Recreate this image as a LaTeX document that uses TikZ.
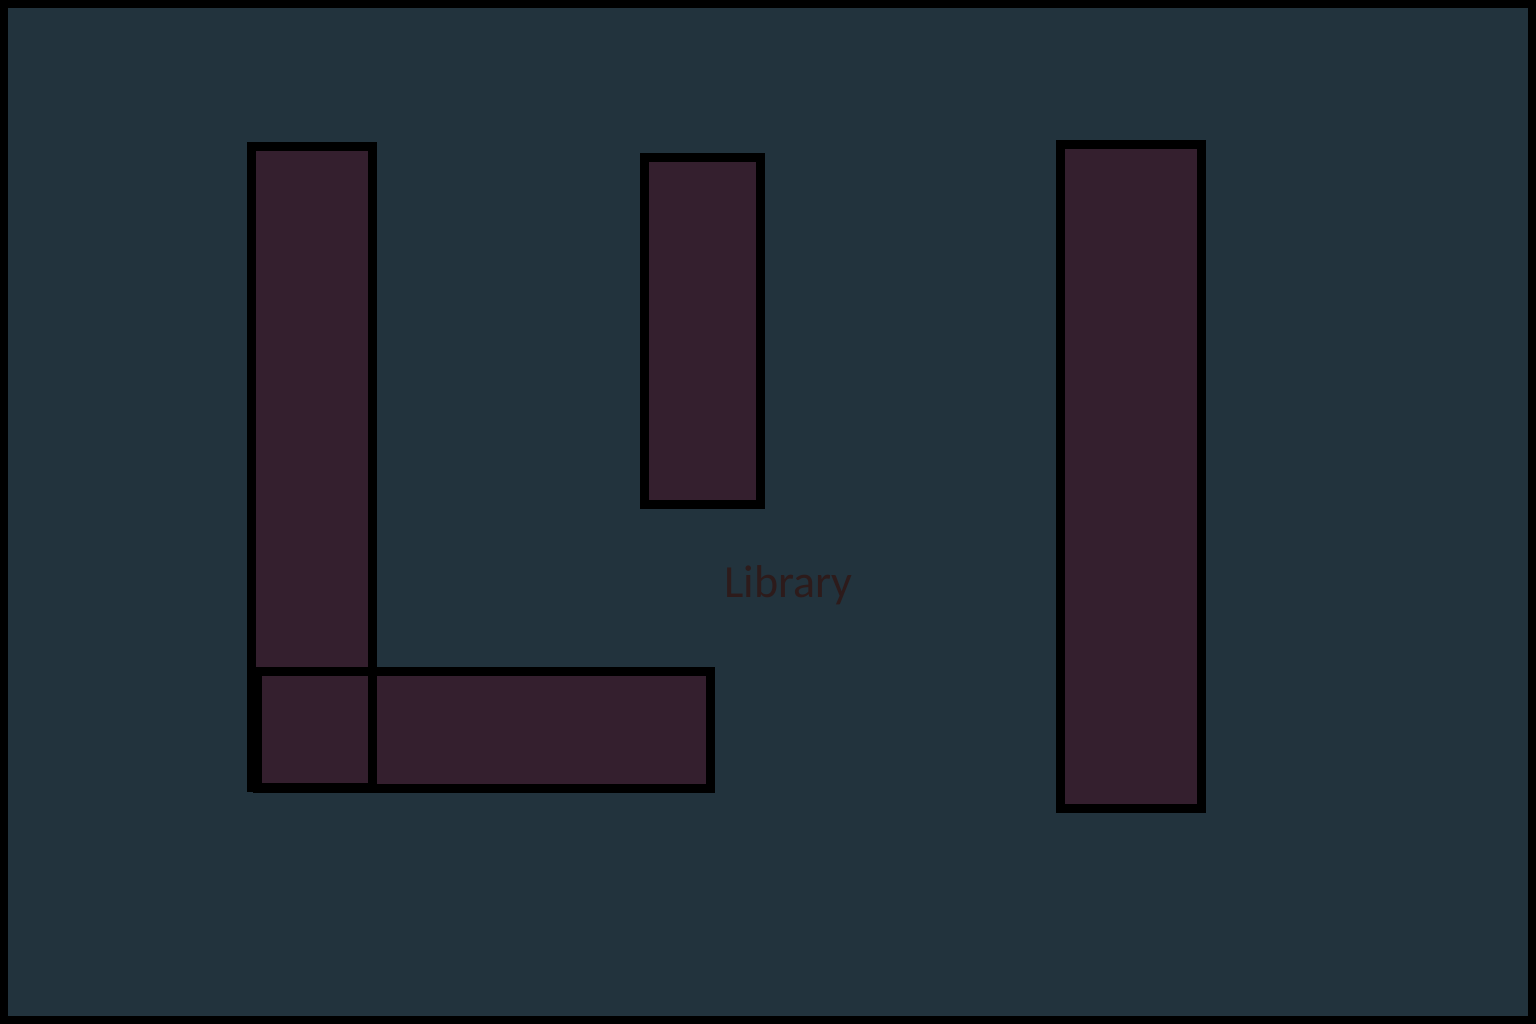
\documentclass[tikz,border=0pt]{standalone}
\usepackage{fontspec}
\setmainfont{Carlito}
\usepackage{xcolor}
\usepackage{tikz}
\usetikzlibrary{positioning}

\definecolor{roomblue}{RGB}{34,51,61}
\definecolor{shelffill}{RGB}{52,31,46}
\definecolor{labelbrown}{RGB}{45,27,27}

\begin{document}
\begin{tikzpicture}[
    x=1pt, y=-1pt,
    shelf/.style={rectangle, draw=black, fill=shelffill, line width=9pt, inner sep=0pt, outer sep=0pt}
]
\useasboundingbox (0,0) rectangle (1536,1024);
\fill[black] (0,0) rectangle (1536,1024);
\fill[roomblue] (8,8) rectangle (1528,1016);

\node[shelf, minimum width=121pt, minimum height=641pt] (vbar) at (312,467) {};
\node[shelf, minimum width=453pt, minimum height=117pt] (hbar) at (484,730) {};
\draw[line width=9pt] (vbar.north west) rectangle (vbar.south east);
\node[shelf, minimum width=116pt, minimum height=347pt] (midbar) at (702.5,331) {};
\node[shelf, minimum width=141pt, minimum height=664pt] (rightbar) at (1131,476.5) {};

\node[text=labelbrown, font=\fontsize{46}{50}\selectfont, anchor=base] (library) at (788.5,597) {Library};

\end{tikzpicture}
\end{document}
